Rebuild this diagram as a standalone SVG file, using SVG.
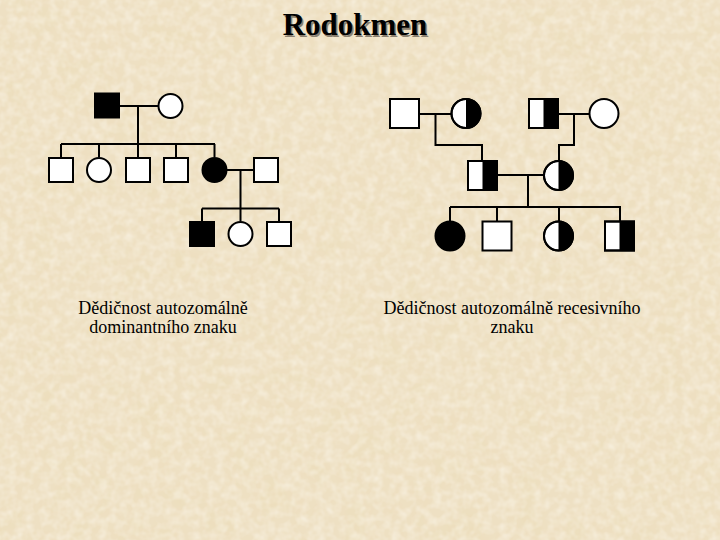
<svg xmlns="http://www.w3.org/2000/svg" width="720" height="540" viewBox="0 0 720 540">
  <defs>
    <filter id="paper" x="0" y="0" width="100%" height="100%">
      <feTurbulence type="fractalNoise" baseFrequency="0.035" numOctaves="4" seed="7"/>
      <feColorMatrix type="matrix" values="0 0 0 0 0.84  0 0 0 0 0.72  0 0 0 0 0.48  0 0 0 1.1 -0.38"/>
    </filter>
    <filter id="paper2" x="0" y="0" width="100%" height="100%">
      <feTurbulence type="fractalNoise" baseFrequency="0.12" numOctaves="2" seed="11"/>
      <feColorMatrix type="matrix" values="0 0 0 0 1  0 0 0 0 0.98  0 0 0 0 0.92  0 0 0 0.8 -0.28"/>
    </filter>
  </defs>
  <style>
    .ln { stroke: #000; stroke-width: 2; fill: none; }
    .w { fill: #fff; stroke: #000; stroke-width: 2; }
    .b { fill: #000; stroke: #000; stroke-width: 2; }
    .blk { fill: #000; }
    .ol { fill: none; stroke: #000; stroke-width: 2; }
    .title { font-family: "Liberation Serif", "Times New Roman", serif; font-weight: bold; font-size: 31px; text-anchor: middle; }
    .cap { font-family: "Liberation Serif", "Times New Roman", serif; font-size: 18px; text-anchor: middle; fill: #000; }
  </style>

  <rect width="720" height="540" fill="#EEE0C3"/>
  <rect width="720" height="540" filter="url(#paper)"/>
  <rect width="720" height="540" filter="url(#paper2)"/>

  <text class="title" x="356.5" y="36.5" fill="#8a8070">Rodokmen</text>
  <text class="title" x="355" y="35" fill="#000">Rodokmen</text>

  <g id="connectors">
    <!-- left pedigree -->
    <line class="ln" x1="119" y1="106" x2="158" y2="106"/>
    <line class="ln" x1="138" y1="106" x2="138" y2="144"/>
    <line class="ln" x1="61" y1="144" x2="215" y2="144"/>
    <line class="ln" x1="61" y1="144" x2="61" y2="157"/>
    <line class="ln" x1="99" y1="144" x2="99" y2="157"/>
    <line class="ln" x1="138" y1="144" x2="138" y2="157"/>
    <line class="ln" x1="176" y1="144" x2="176" y2="157"/>
    <line class="ln" x1="214.5" y1="144" x2="214.5" y2="157"/>
    <line class="ln" x1="227" y1="170" x2="253" y2="170"/>
    <line class="ln" x1="240.5" y1="170" x2="240.5" y2="208.5"/>
    <line class="ln" x1="202" y1="208.5" x2="279" y2="208.5"/>
    <line class="ln" x1="202" y1="208.5" x2="202" y2="221"/>
    <line class="ln" x1="240.5" y1="208.5" x2="240.5" y2="221"/>
    <line class="ln" x1="279" y1="208.5" x2="279" y2="221"/>
    <!-- right pedigree -->
    <line class="ln" x1="419" y1="114" x2="451" y2="114"/>
    <path class="ln" d="M435.5 114 V145 H482 V160"/>
    <line class="ln" x1="558" y1="114" x2="589" y2="114"/>
    <path class="ln" d="M574 114 V145 H559 V160"/>
    <line class="ln" x1="497" y1="175" x2="543" y2="175"/>
    <line class="ln" x1="528" y1="175" x2="528" y2="207"/>
    <line class="ln" x1="450" y1="207" x2="621" y2="207"/>
    <line class="ln" x1="450" y1="207" x2="450" y2="221"/>
    <line class="ln" x1="497" y1="207" x2="497" y2="221"/>
    <line class="ln" x1="559" y1="207" x2="559" y2="221"/>
    <line class="ln" x1="620" y1="207" x2="620" y2="221"/>
  </g>

  <!-- left pedigree nodes -->
  <g id="L-father"><rect class="b" x="95" y="93.5" width="24" height="24"/></g>
  <g id="L-mother"><circle class="w" cx="170.5" cy="106" r="12"/></g>
  <g id="L-c1"><rect class="w" x="49" y="158" width="24" height="24"/></g>
  <g id="L-c2"><circle class="w" cx="99" cy="170" r="12"/></g>
  <g id="L-c3"><rect class="w" x="126" y="158" width="24" height="24"/></g>
  <g id="L-c4"><rect class="w" x="164" y="158" width="24" height="24"/></g>
  <g id="L-c5"><circle class="b" cx="214.5" cy="170" r="12"/></g>
  <g id="L-spouse"><rect class="w" x="254" y="158" width="24" height="24"/></g>
  <g id="L-g1"><rect class="b" x="190" y="222" width="24" height="24"/></g>
  <g id="L-g2"><circle class="w" cx="240.5" cy="234" r="12"/></g>
  <g id="L-g3"><rect class="w" x="267" y="222" width="24" height="24"/></g>

  <!-- right pedigree nodes -->
  <g id="R-gf1"><rect class="w" x="390" y="99" width="29" height="29"/></g>
  <g id="R-gm1">
    <circle class="w" cx="466" cy="113.5" r="14.5"/>
    <path class="blk" d="M466 99 A14.5 14.5 0 0 1 466 128 Z"/>
    <circle class="ol" cx="466" cy="113.5" r="14.5"/>
  </g>
  <g id="R-gf2">
    <rect class="w" x="529" y="99" width="29" height="29"/>
    <rect class="blk" x="543.5" y="99" width="14.5" height="29"/>
    <rect class="ol" x="529" y="99" width="29" height="29"/>
  </g>
  <g id="R-gm2"><circle class="w" cx="604" cy="113.5" r="14.5"/></g>
  <g id="R-father">
    <rect class="w" x="468" y="161" width="29" height="29"/>
    <rect class="blk" x="482.5" y="161" width="14.5" height="29"/>
    <rect class="ol" x="468" y="161" width="29" height="29"/>
  </g>
  <g id="R-mother">
    <circle class="w" cx="558.5" cy="175.5" r="14.5"/>
    <path class="blk" d="M558.5 161 A14.5 14.5 0 0 1 558.5 190 Z"/>
    <circle class="ol" cx="558.5" cy="175.5" r="14.5"/>
  </g>
  <g id="R-c1"><circle class="b" cx="450" cy="236" r="14.5"/></g>
  <g id="R-c2"><rect class="w" x="482.5" y="221.5" width="29" height="29"/></g>
  <g id="R-c3">
    <circle class="w" cx="558.5" cy="236" r="14.5"/>
    <path class="blk" d="M558.5 221.5 A14.5 14.5 0 0 1 558.5 250.5 Z"/>
    <circle class="ol" cx="558.5" cy="236" r="14.5"/>
  </g>
  <g id="R-c4">
    <rect class="w" x="605" y="221.5" width="29" height="29"/>
    <rect class="blk" x="619.5" y="221.5" width="14.5" height="29"/>
    <rect class="ol" x="605" y="221.5" width="29" height="29"/>
  </g>

  <g id="captions">
    <text class="cap" x="163" y="314">Dědičnost autozomálně</text>
    <text class="cap" x="163" y="333">dominantního znaku</text>
    <text class="cap" x="512" y="314">Dědičnost autozomálně recesivního</text>
    <text class="cap" x="512" y="333">znaku</text>
  </g>
</svg>
